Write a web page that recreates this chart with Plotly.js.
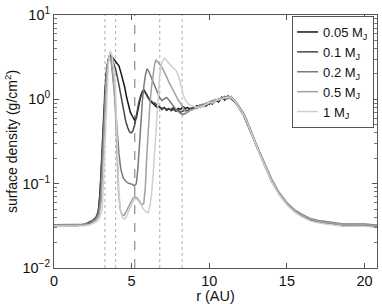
<!DOCTYPE html>
<html>
<head>
<meta charset="utf-8">
<script src="https://cdn.plot.ly/plotly-3.0.1.min.js"></script>
<style>html,body{margin:0;padding:0;background:#fff;}#chart{width:382px;height:304px;}</style>
</head>
<body>
<div id="chart"></div>
<script>
// ---- data ----
const seriesNames = ["0.05 M<sub>J</sub>", "0.1 M<sub>J</sub>", "0.2 M<sub>J</sub>", "0.5 M<sub>J</sub>", "1 M<sub>J</sub>"];
const seriesColors = ["#161616", "#474747", "#7a7a7a", "#a0a0a0", "#cfcfcf"];

// inner disc (r < 9 AU), per planet mass
const r005 = [0, 1.5, 2.0, 2.3, 2.5, 2.7, 2.85, 2.95, 3.05, 3.15, 3.25, 3.35, 3.45, 3.55, 3.68, 3.8, 3.92, 4.05, 4.18, 4.3, 4.42, 4.55, 4.68, 4.8, 4.92, 5.05, 5.18, 5.3, 5.42, 5.55, 5.68, 5.78, 5.9, 6.05, 6.2, 6.35, 6.5, 6.65, 6.8, 6.95, 7.1, 7.25, 7.4, 7.55, 7.7, 7.85, 8.0, 8.15, 8.3, 8.45, 8.6, 8.75];
const s005 = [0.032, 0.032, 0.033, 0.034, 0.036, 0.038, 0.045, 0.07, 0.15, 0.4, 0.95, 1.8, 2.6, 3.1, 3.3, 3.1, 2.85, 2.7, 2.5, 2.1, 1.75, 1.4, 1.05, 0.82, 0.7, 0.63, 0.57, 0.6, 0.78, 1.02, 1.2, 1.3, 1.2, 1.05, 0.95, 0.9, 0.85, 0.8, 0.82, 0.76, 0.8, 0.74, 0.77, 0.75, 0.8, 0.73, 0.78, 0.76, 0.82, 0.78, 0.8, 0.77];

const r01 = [0, 1.5, 2.0, 2.3, 2.5, 2.7, 2.85, 2.97, 3.07, 3.17, 3.27, 3.37, 3.47, 3.57, 3.65, 3.75, 3.87, 4.0, 4.12, 4.25, 4.38, 4.5, 4.62, 4.75, 4.87, 4.97, 5.07, 5.2, 5.32, 5.45, 5.58, 5.7, 5.8, 5.92, 6.05, 6.2, 6.35, 6.5, 6.65, 6.8, 6.95, 7.1, 7.25, 7.4, 7.55, 7.7, 7.85, 8.0, 8.15, 8.3, 8.45, 8.6, 8.75];
const s01 = [0.032, 0.032, 0.033, 0.035, 0.037, 0.04, 0.047, 0.08, 0.2, 0.55, 1.2, 2.1, 2.9, 3.3, 3.35, 3.05, 2.6, 2.15, 1.7, 1.25, 0.92, 0.7, 0.55, 0.46, 0.41, 0.4, 0.42, 0.5, 0.68, 0.9, 1.1, 1.25, 1.27, 1.15, 1.05, 0.98, 0.92, 0.9, 0.85, 0.8, 0.78, 0.8, 0.76, 0.78, 0.73, 0.76, 0.72, 0.75, 0.7, 0.72, 0.75, 0.73, 0.78];

const r02 = [0, 1.5, 2.0, 2.3, 2.5, 2.7, 2.88, 3.0, 3.1, 3.2, 3.3, 3.4, 3.5, 3.58, 3.68, 3.78, 3.88, 3.98, 4.08, 4.18, 4.3, 4.45, 4.6, 4.75, 4.9, 5.05, 5.18, 5.3, 5.4, 5.5, 5.6, 5.7, 5.8, 5.9, 6.0, 6.1, 6.22, 6.35, 6.5, 6.65, 6.8, 6.95, 7.1, 7.25, 7.4, 7.55, 7.7, 7.85, 8.0, 8.15, 8.3, 8.45, 8.6, 8.75];
const s02 = [0.0325, 0.0325, 0.033, 0.0345, 0.0365, 0.0385, 0.045, 0.07, 0.16, 0.45, 1.2, 2.2, 3.0, 3.25, 2.9, 2.0, 1.25, 0.7, 0.38, 0.23, 0.15, 0.118, 0.108, 0.102, 0.1, 0.098, 0.094, 0.1, 0.15, 0.3, 0.6, 1.0, 1.5, 2.0, 2.3, 2.15, 1.9, 1.65, 1.4, 1.2, 1.05, 0.97, 1.02, 1.05, 0.98, 0.9, 0.82, 0.76, 0.72, 0.68, 0.66, 0.68, 0.7, 0.74];

const r05 = [0, 1.5, 2.0, 2.3, 2.5, 2.7, 2.9, 3.05, 3.15, 3.25, 3.35, 3.45, 3.53, 3.62, 3.72, 3.82, 3.92, 4.0, 4.08, 4.16, 4.26, 4.38, 4.52, 4.66, 4.8, 4.95, 5.1, 5.22, 5.35, 5.5, 5.65, 5.78, 5.88, 5.98, 6.08, 6.18, 6.28, 6.38, 6.48, 6.56, 6.68, 6.8, 6.95, 7.1, 7.25, 7.4, 7.55, 7.7, 7.85, 8.0, 8.15, 8.3, 8.45, 8.6, 8.75];
const s05 = [0.032, 0.032, 0.0325, 0.033, 0.035, 0.037, 0.042, 0.065, 0.18, 0.6, 1.5, 2.5, 3.15, 3.1, 2.6, 1.8, 1.0, 0.45, 0.16, 0.075, 0.05, 0.043, 0.042, 0.047, 0.054, 0.062, 0.068, 0.07, 0.068, 0.062, 0.056, 0.058, 0.09, 0.22, 0.5, 0.9, 1.4, 2.0, 2.6, 2.95, 2.8, 2.6, 2.4, 2.15, 1.85, 1.6, 1.4, 1.25, 1.08, 0.98, 0.9, 0.8, 0.72, 0.7, 0.74];

const r1 = [0, 1.5, 2.0, 2.3, 2.5, 2.7, 2.9, 3.1, 3.2, 3.3, 3.4, 3.5, 3.6, 3.68, 3.76, 3.85, 3.95, 4.03, 4.1, 4.18, 4.28, 4.4, 4.52, 4.65, 4.8, 4.95, 5.1, 5.22, 5.35, 5.5, 5.65, 5.8, 5.95, 6.06, 6.18, 6.3, 6.42, 6.55, 6.68, 6.8, 6.92, 7.05, 7.15, 7.3, 7.45, 7.6, 7.75, 7.9, 8.05, 8.2, 8.35, 8.5, 8.65, 8.8];
const s1 = [0.0315, 0.0315, 0.0318, 0.0325, 0.0335, 0.035, 0.038, 0.05, 0.12, 0.4, 1.3, 2.7, 3.7, 3.6, 3.1, 2.3, 1.4, 0.6, 0.2, 0.08, 0.048, 0.04, 0.038, 0.04, 0.047, 0.055, 0.062, 0.066, 0.065, 0.06, 0.054, 0.049, 0.046, 0.045, 0.055, 0.08, 0.16, 0.4, 1.0, 1.9, 2.6, 3.0, 3.05, 2.8, 2.6, 2.45, 2.3, 2.15, 1.8, 1.4, 1.1, 0.95, 0.88, 0.85];

// outer disc (r >= 9 AU), shared radius grid
const rOuter = [9.0, 9.2, 9.4, 9.6, 9.8, 10.0, 10.2, 10.4, 10.6, 10.8, 11.0, 11.2, 11.4, 11.6, 11.8, 12.0, 12.2, 12.4, 12.6, 12.8, 13.0, 13.3, 13.6, 14.0, 14.5, 15.0, 15.5, 16.0, 16.5, 17.0, 17.5, 18.0, 18.5, 19.0, 19.5, 20.0, 20.8];
const o005 = [0.78, 0.84, 0.8, 0.86, 0.83, 0.92, 0.88, 0.98, 0.93, 1.06, 0.98, 1.1, 1.02, 0.95, 0.85, 0.75, 0.65, 0.54, 0.43, 0.36, 0.29, 0.215, 0.16, 0.108, 0.075, 0.057, 0.047, 0.041, 0.037, 0.035, 0.034, 0.033, 0.032, 0.032, 0.032, 0.032, 0.031];
const o01 = [0.8, 0.78, 0.86, 0.82, 0.9, 0.87, 0.95, 0.99, 0.96, 1.03, 1.08, 1.02, 1.08, 0.98, 0.87, 0.76, 0.66, 0.55, 0.44, 0.36, 0.29, 0.215, 0.16, 0.11, 0.075, 0.057, 0.047, 0.041, 0.037, 0.035, 0.034, 0.033, 0.032, 0.032, 0.032, 0.032, 0.031];
const o02 = [0.77, 0.82, 0.84, 0.88, 0.86, 0.93, 0.97, 0.94, 1.02, 1.0, 1.05, 1.08, 1.04, 0.99, 0.89, 0.79, 0.69, 0.575, 0.46, 0.378, 0.303, 0.225, 0.168, 0.115, 0.0785, 0.0595, 0.049, 0.0428, 0.0386, 0.0365, 0.0355, 0.0344, 0.0334, 0.0333, 0.0333, 0.0333, 0.0323];
const o05 = [0.76, 0.8, 0.85, 0.83, 0.88, 0.91, 0.95, 1.0, 0.97, 1.04, 1.02, 1.09, 1.03, 0.98, 0.88, 0.78, 0.68, 0.565, 0.452, 0.372, 0.298, 0.221, 0.165, 0.113, 0.077, 0.0585, 0.0482, 0.0421, 0.038, 0.0359, 0.0349, 0.0339, 0.0328, 0.0328, 0.0328, 0.0328, 0.0318];
const o1 = [0.82, 0.8, 0.8, 0.83, 0.87, 0.92, 0.9, 0.96, 1.0, 1.0, 1.06, 1.04, 1.07, 0.97, 0.86, 0.755, 0.655, 0.55, 0.44, 0.36, 0.287, 0.213, 0.158, 0.107, 0.0738, 0.0558, 0.046, 0.0402, 0.0362, 0.0343, 0.0333, 0.0323, 0.0314, 0.0313, 0.0313, 0.0313, 0.0303];

// reference radii
const resonanceR = [3.28, 3.97, 6.81, 8.25];
const planetR = [5.2];

const xTicks = [0, 5, 10, 15, 20];
const yTickVals = [0.01, 0.1, 1, 10];
const yTickText = ["10<sup>−2</sup>", "10<sup>−1</sup>", "10<sup>0</sup>", "10<sup>1</sup>"];
const minorMantissas = [2, 3, 4, 5, 6, 7, 8, 9];

// ---- build ----
const inners = [[r005, s005], [r01, s01], [r02, s02], [r05, s05], [r1, s1]];
const outers = [o005, o01, o02, o05, o1];
const traces = inners.map((d, i) => ({
  x: d[0].concat(rOuter),
  y: d[1].concat(outers[i]),
  mode: "lines",
  name: seriesNames[i],
  line: {color: seriesColors[i], width: 1.5},
  type: "scatter"
}));

const minorVals = [];
yTickVals.slice(0, -1).forEach(d => minorMantissas.forEach(m => minorVals.push(d * m)));

const shapes = [];
resonanceR.forEach(r => shapes.push({type: "line", xref: "x", yref: "paper", x0: r, x1: r, y0: 0, y1: 1,
  line: {color: "#b0b0b0", width: 1, dash: "dot"}, layer: "below"}));
planetR.forEach(r => shapes.push({type: "line", xref: "x", yref: "paper", x0: r, x1: r, y0: 0, y1: 1,
  line: {color: "#8a8a8a", width: 1.2, dash: "dash"}, layer: "below"}));

const fam = "Liberation Sans, Arial, sans-serif";
const layout = {
  width: 382, height: 304,
  margin: {l: 54, r: 5, t: 15, b: 36},
  paper_bgcolor: "#fff", plot_bgcolor: "#fff",
  font: {family: fam, size: 14, color: "#111"},
  showlegend: true,
  legend: {
    x: 0.991, y: 0.996, xanchor: "right", yanchor: "top",
    bgcolor: "#fff", bordercolor: "#555", borderwidth: 1,
    font: {family: fam, size: 13, color: "#111"},
    traceorder: "normal", itemwidth: 30, tracegroupgap: 0
  },
  xaxis: {
    range: [0, 20.8], tickvals: xTicks, ticks: "inside", ticklen: 5, tickcolor: "#555",
    showline: true, linecolor: "#555", linewidth: 1, mirror: "ticks",
    showgrid: false, zeroline: false,
    tickfont: {size: 14.5},
    title: {text: "r (AU)", font: {size: 14.5}, standoff: 2}
  },
  yaxis: {
    type: "log", range: [-2, 1], tickvals: yTickVals, ticktext: yTickText,
    ticks: "inside", ticklen: 5, tickcolor: "#555",
    minor: {tickvals: minorVals, ticks: "inside", ticklen: 3, tickcolor: "#777", showgrid: false},
    showline: true, linecolor: "#555", linewidth: 1, mirror: "ticks",
    showgrid: false, zeroline: false,
    tickfont: {size: 14.5},
    title: {text: "surface density (g/cm<sup>2</sup>)", font: {size: 14}, standoff: 1}
  },
  shapes: shapes
};

Plotly.newPlot("chart", traces, layout, {staticPlot: true, displayModeBar: false}).then(gd => {
  // shorten legend line samples and tighten the box's left side, as in the reference
  gd.querySelectorAll(".legend .legendlines path").forEach(p => {
    p.setAttribute("d", "M14,0h21");
  });
  const bg = gd.querySelector(".legend rect.bg");
  if (bg) {
    const w = parseFloat(bg.getAttribute("width"));
    const x0 = parseFloat(bg.getAttribute("x") || 0);
    bg.setAttribute("x", x0 + 10);
    bg.setAttribute("width", w - 10);
  }
});
</script>
</body>
</html>
